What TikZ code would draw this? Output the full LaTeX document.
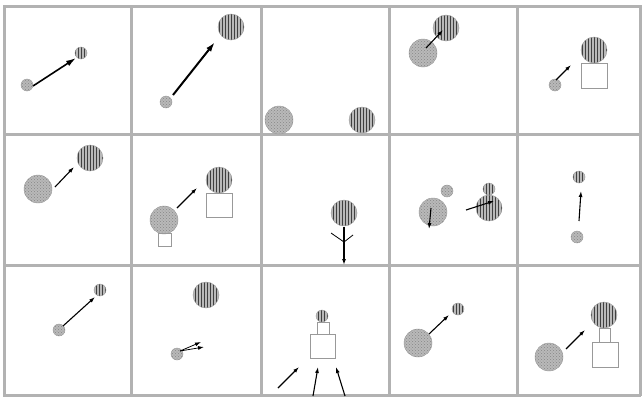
\documentclass[tikz,border=0pt]{standalone}
\usetikzlibrary{arrows.meta,patterns}
\begin{document}
\begin{tikzpicture}[x=1pt,y=-1pt,
  grid/.style={line width=3pt,draw=gray!60},
  dotball/.style={circle,inner sep=0pt,draw=gray!80,thin,preaction={fill=gray!55},pattern=crosshatch dots,pattern color=gray!95},
  lineball/.style={circle,inner sep=0pt,draw=gray!80,thin,preaction={fill=gray!55},pattern=vertical lines,pattern color=black!75},
  dotsmall/.style={dotball,minimum size=12pt},
  dotbig/.style={dotball,minimum size=28pt},
  linesmall/.style={lineball,minimum size=12pt},
  linebig/.style={lineball,minimum size=26pt},
  crate/.style={draw=gray!80,thin,inner sep=0pt},
  push/.style={-{Latex[length=10pt,width=6pt]},line width=1.6pt},
  nudge/.style={-{Latex[length=6pt,width=4pt]},line width=1.1pt}]
\useasboundingbox (0,0) rectangle (642,397);
\fill[white] (0,0) rectangle (642,397);
% panel grid
\foreach \gx in {4,131,261,389,517,640}
  \draw[grid] (\gx,5) -- (\gx,396);
\foreach \gy in {6,134,265,395}
  \draw[grid] (3,\gy) -- (641,\gy);
% row 1
\node[dotsmall] (p11a) at (27,85) {};
\node[linesmall] (p11b) at (81,53) {};
\coordinate (p11s) at (33,86); \coordinate (p11e) at (76,58);
\draw[push] (p11s) -- (p11e);
\node[dotsmall] (p12a) at (166,102) {};
\node[linebig] (p12b) at (231,27) {};
\coordinate (p12s) at (173,95); \coordinate (p12e) at (215,42);
\draw[push,line width=2pt] (p12s) -- (p12e);
\node[dotbig] (p13a) at (279,120) {};
\node[linebig] (p13b) at (362,120) {};
\node[dotbig] (p14a) at (423,53) {};
\node[linebig] (p14b) at (446,28) {};
\coordinate (p14s) at (426,48); \coordinate (p14e) at (443,30);
\draw[nudge] (p14s) -- (p14e);
\node[linebig] (p15b) at (594,50) {};
\node[crate,minimum width=26pt,minimum height=25pt] (p15c) at (594,75.5) {};
\node[dotsmall] (p15a) at (555,85) {};
\coordinate (p15s) at (556,80); \coordinate (p15e) at (571,65);
\draw[nudge] (p15s) -- (p15e);
% row 2
\node[dotbig] (p21a) at (38,189) {};
\node[linebig] (p21b) at (90,158) {};
\coordinate (p21s) at (55,187); \coordinate (p21e) at (74,167);
\draw[nudge] (p21s) -- (p21e);
\node[dotbig] (p22a) at (164,220) {};
\node[crate,minimum size=13pt] (p22c) at (164.5,240) {};
\node[linebig] (p22b) at (219,180) {};
\node[crate,minimum width=26pt,minimum height=24pt] (p22d) at (219,205) {};
\coordinate (p22s) at (177,208); \coordinate (p22e) at (197,188);
\draw[nudge] (p22s) -- (p22e);
\node[linebig] (p23b) at (344,213) {};
\coordinate (p23s) at (344,227); \coordinate (p23e) at (344,265);
\coordinate (p23l) at (331,233); \coordinate (p23r) at (353,235); \coordinate (p23m) at (344,242);
\draw[nudge,line width=1.4pt] (p23s) -- (p23e);
\draw[thick] (p23l) -- (p23m) -- (p23r);
\node[dotbig] (p24a) at (433,212) {};
\node[dotsmall] (p24c) at (447,191) {};
\node[linebig] (p24b) at (489,208) {};
\node[linesmall] (p24d) at (489,189) {};
\coordinate (p24s) at (431,208); \coordinate (p24e) at (429,229);
\draw[nudge] (p24s) -- (p24e);
\coordinate (p24t) at (466,210); \coordinate (p24u) at (494,201);
\draw[nudge] (p24t) -- (p24u);
\node[linesmall] (p25b) at (579,177) {};
\node[dotsmall] (p25a) at (577,237) {};
\coordinate (p25s) at (579,221); \coordinate (p25e) at (581,191);
\draw[nudge] (p25s) -- (p25e);
% row 3
\node[dotsmall] (p31a) at (59,330) {};
\node[linesmall] (p31b) at (100,290) {};
\coordinate (p31s) at (63,326); \coordinate (p31e) at (95,297);
\draw[nudge] (p31s) -- (p31e);
\node[linebig] (p32b) at (206,295) {};
\node[dotsmall] (p32a) at (177,354) {};
\coordinate (p32s) at (180,351); \coordinate (p32e) at (201,342); \coordinate (p32f) at (204,347);
\draw[nudge,line width=0.8pt] (p32s) -- (p32e);
\draw[nudge,line width=0.8pt] (p32s) -- (p32f);
\node[linesmall] (p33b) at (322,316) {};
\node[crate,minimum size=12pt] (p33c) at (323,328) {};
\node[crate,minimum width=25pt,minimum height=24pt] (p33d) at (322.5,346) {};
\coordinate (p33s) at (278,388); \coordinate (p33e) at (299,367);
\coordinate (p33t) at (313,396); \coordinate (p33u) at (318,367);
\coordinate (p33v) at (345,396); \coordinate (p33w) at (336,367);
\draw[nudge] (p33s) -- (p33e);
\draw[nudge] (p33t) -- (p33u);
\draw[nudge] (p33v) -- (p33w);
\node[dotbig] (p34a) at (418,343) {};
\node[linesmall] (p34b) at (458,309) {};
\coordinate (p34s) at (429,334); \coordinate (p34e) at (449,315);
\draw[nudge] (p34s) -- (p34e);
\node[dotbig] (p35a) at (549,357) {};
\node[linebig] (p35b) at (604,315) {};
\node[crate,minimum width=11pt,minimum height=14pt] (p35c) at (604.5,335) {};
\node[crate,minimum width=26pt,minimum height=25pt] (p35d) at (605,354.5) {};
\coordinate (p35s) at (566,349); \coordinate (p35e) at (585,330);
\draw[nudge] (p35s) -- (p35e);
\end{tikzpicture}
\end{document}
